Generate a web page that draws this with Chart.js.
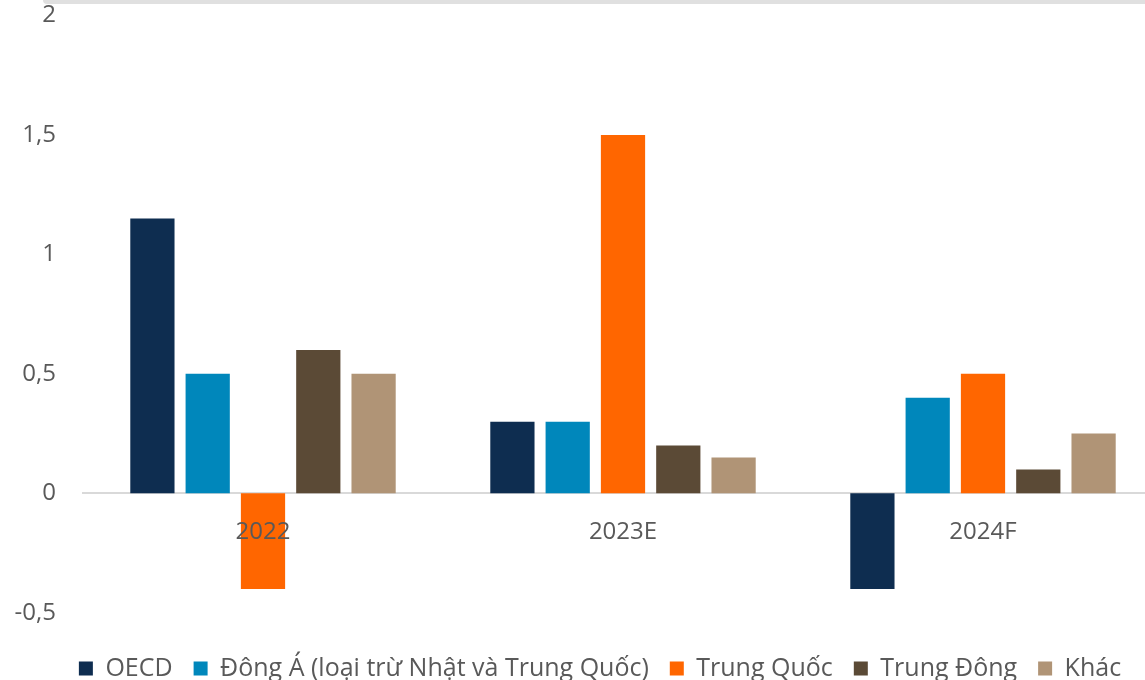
<!DOCTYPE html>
<html>
<head>
<meta charset="utf-8">
<script src="https://cdn.jsdelivr.net/npm/chart.js@4"></script>
<style>
  html, body { margin: 0; padding: 0; background: #fff; overflow: hidden; }
  #top-bar { position: absolute; left: 43px; top: 0; width: 1110px; height: 4px; background: #e0e0e0; border-bottom-left-radius: 4px; z-index: 2; }
  #wrap { position: absolute; left: 0; top: -26px; width: 1200px; height: 717px; }
</style>
</head>
<body>
<div id="top-bar"></div>
<div id="wrap"><canvas id="chart"></canvas></div>
<script>
document.addEventListener('DOMContentLoaded', (event) => {
    // Dữ liệu
    var categories = ['2022', '2023E', '2024F'];
    var seriesNames = ['OECD', 'Đông Á (loại trừ Nhật và Trung Quốc)', 'Trung Quốc', 'Trung Đông', 'Khác'];
    var oecd = [1.15, 0.3, -0.4];
    var dongA = [0.5, 0.3, 0.4];
    var trungQuoc = [-0.4, 1.5, 0.5];
    var trungDong = [0.6, 0.2, 0.1];
    var khac = [0.5, 0.15, 0.25];
    var colors = ['#0e2d50', '#0087bb', '#ff6600', '#5b4a36', '#b09476'];
    var values = [oecd, dongA, trungQuoc, trungDong, khac];

    var textColor = '#595959';
    var fontFamily = '"Open Sans", "Noto Sans", sans-serif';

    // dịch chú giải sang phải cho cân giữa trang
    var legendShift = {
        id: 'legendShift',
        afterLayout: function (chart) {
            chart.legend.left += 12;
            chart.legend.right += 12;
        }
    };

    var ctx = document.getElementById('chart').getContext('2d');
    var chart = new Chart(ctx, {
        type: 'bar',
        data: {
            labels: categories,
            datasets: seriesNames.map(function (name, i) {
                return {
                    label: name,
                    data: values[i],
                    backgroundColor: colors[i],
                    borderWidth: 0,
                    categoryPercentage: 0.768,
                    barPercentage: 0.8
                };
            })
        },
        plugins: [legendShift],
        options: {
            responsive: true,
            maintainAspectRatio: false,
            animation: false,
            layout: { padding: { left: 13, right: 37, top: 0, bottom: 0 } },
            plugins: {
                tooltip: { enabled: false },
                legend: {
                    position: 'bottom',
                    title: { display: true, text: ' ', font: { size: 1 }, padding: { top: 0, bottom: 21 } },
                    labels: {
                        color: textColor,
                        font: { family: fontFamily, size: 25 },
                        boxWidth: 14,
                        boxHeight: 14,
                        padding: 21
                    }
                }
            },
            scales: {
                x: {
                    position: { y: 0 },
                    grid: { display: false, drawTicks: false },
                    border: { display: true, color: '#d9d9d9', width: 2 },
                    ticks: {
                        z: 1,
                        color: textColor,
                        font: { family: fontFamily, size: 24 },
                        padding: 24
                    }
                },
                y: {
                    min: -0.5,
                    max: 2,
                    afterFit: function (scale) { scale.width = 70; },
                    grid: { display: false, drawTicks: false },
                    border: { display: false },
                    ticks: {
                        stepSize: 0.5,
                        color: textColor,
                        font: { family: fontFamily, size: 24 },
                        padding: 27,
                        callback: function (v) { return String(v).replace('.', ','); }
                    }
                }
            }
        }
    });
});
</script>
</body>
</html>
